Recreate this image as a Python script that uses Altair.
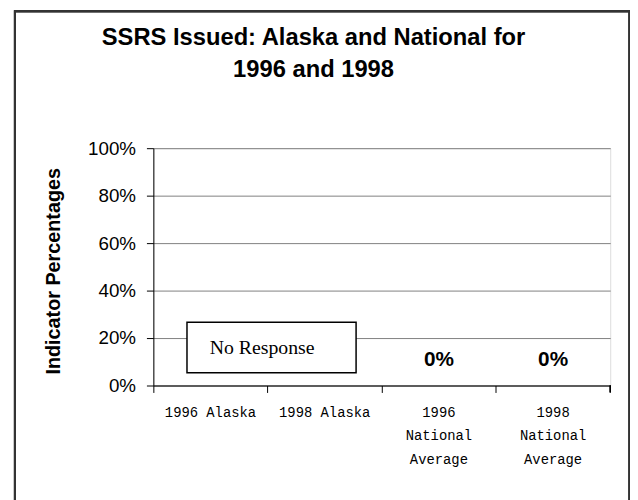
import altair as alt
import pandas as pd

# ---- data ----
categories = ["1996 Alaska", "1998 Alaska", "1996 National Average", "1998 National Average"]
values = [None, None, 0.0, 0.0]          # Alaska: no response
value_labels = ["", "", "0%", "0%"]
y_ticks = [0, 0.2, 0.4, 0.6, 0.8, 1.0]
title_lines = ["SSRS Issued: Alaska and National for", "1996 and 1998"]
note_text = ["No Response"]
note_top = [0.267]
note_bottom = [0.054]
note_text_y = [0.133]

df = pd.DataFrame({"cat": categories, "val": values, "lab": value_labels})
note = pd.DataFrame({"top": note_top, "bottom": note_bottom, "ty": note_text_y, "txt": note_text})

label_expr = ("datum.label == '1996 National Average' ? ['1996', 'National', 'Average'] : "
              "datum.label == '1998 National Average' ? ['1998', 'National', 'Average'] : datum.label")

xenc = alt.X("cat:N", sort=categories, title=None,
             scale=alt.Scale(paddingInner=0, paddingOuter=0),
             axis=alt.Axis(labelAngle=0, labelFont="Liberation Mono", labelFontSize=14,
                           labelColor="black", labelLineHeight=24, labelPadding=13,
                           labelExpr=label_expr, bandPosition=0, tickSize=7,
                           tickColor="black", domainColor="black", grid=False,
                           labelLimit=200))
yenc = alt.Y("val:Q", title="Indicator Percentages",
             scale=alt.Scale(domain=[0, 1], nice=False),
             axis=alt.Axis(values=y_ticks, format=".0%", labelFont="Liberation Sans",
                           labelFontSize=19, labelColor="black", labelPadding=11,
                           tickSize=7, tickColor="black", domainColor="black",
                           gridColor="#808080", gridWidth=1,
                           titleFont="Liberation Sans", titleFontSize=20,
                           titleFontWeight="bold", titleColor="black",
                           titleX=-101, titleY=124, titleAngle=-90,
                           titleAlign="center", titleBaseline="middle"))

bars = alt.Chart(df).mark_bar(color="#9999ff").encode(x=xenc, y=yenc)

labels = alt.Chart(df).mark_text(font="Liberation Sans", fontSize=21, fontWeight="bold",
                                 color="black", baseline="alphabetic", dy=-20).encode(
    x=alt.X("cat:N", sort=categories), y=alt.Y("val:Q"), text="lab:N")

box = alt.Chart(note).mark_rect(fill="white", stroke="black", strokeWidth=1.5).encode(
    x=alt.value(34), x2=alt.value(205), y=alt.Y("top:Q"), y2="bottom:Q")

box_text = alt.Chart(note).mark_text(font="Liberation Serif", fontSize=20, color="black",
                                     baseline="alphabetic", align="center").encode(
    x=alt.value(110), y=alt.Y("ty:Q"), text="txt:N")

end_tick = alt.Chart(df).mark_rule(color="black").encode(
    x=alt.value(462), y=alt.value(240), y2=alt.value(247))

border = alt.Chart(df).mark_rect(filled=False, stroke="#333333", strokeWidth=2).encode(
    x=alt.value(-140), x2=alt.value(481.5), y=alt.value(-138.5), y2=alt.value(360))

chart = alt.layer(border, bars, labels, box, box_text, end_tick).properties(
    width=462, height=240,
    autosize=alt.AutoSizeParams(type="none"),
    padding={"left": 147, "top": 139, "right": 20, "bottom": 113},
    title=alt.TitleParams(text=title_lines, font="Liberation Sans", fontSize=24,
                          fontWeight="bold", color="black", anchor="middle",
                          baseline="top", lineHeight=32.5, offset=0, dx=-69, dy=73),
).configure_view(stroke="#808080", strokeWidth=1.5).configure(background="white")

chart.save("out.html", embed_options={"renderer": "svg", "actions": False})
